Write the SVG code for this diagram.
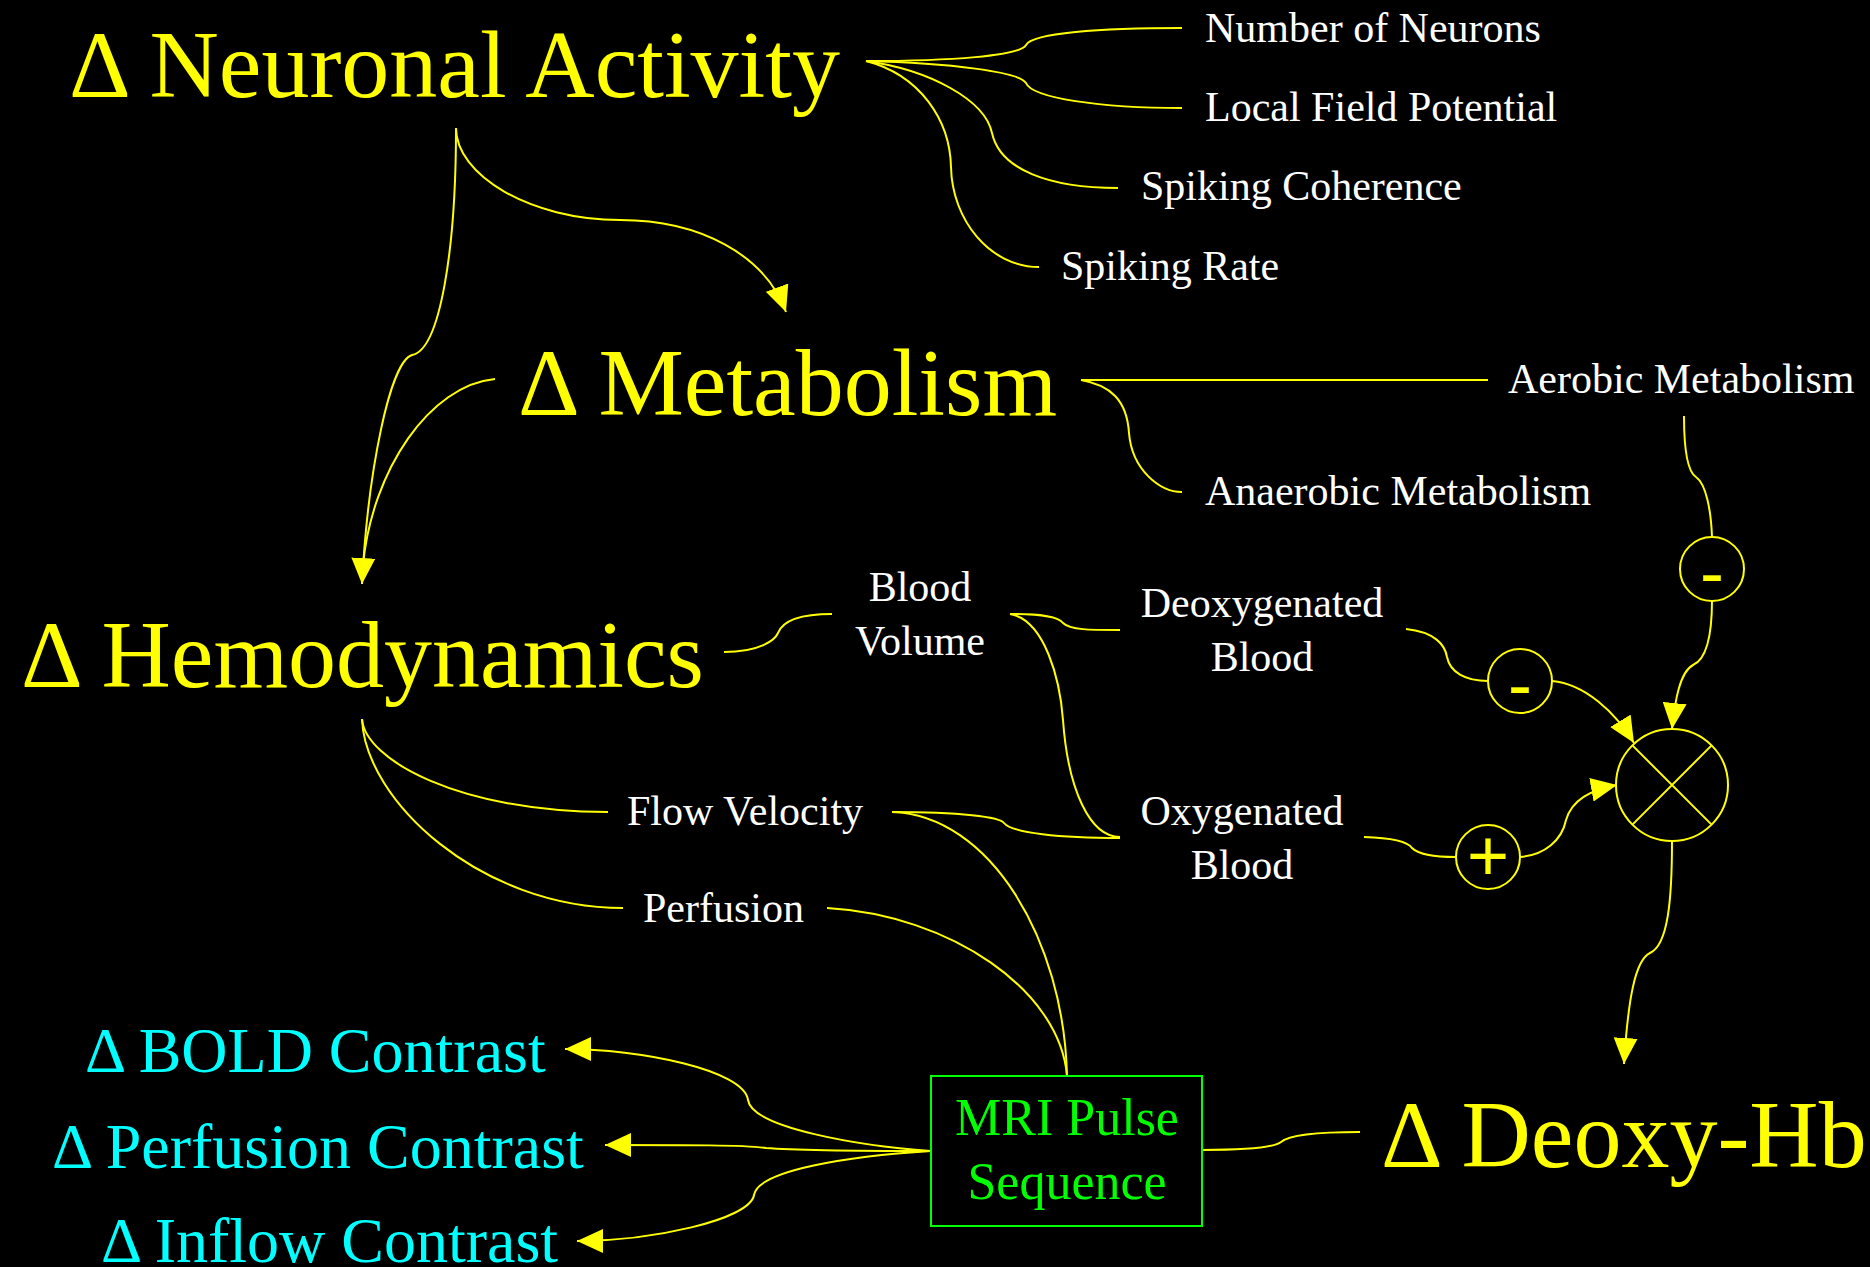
<svg xmlns="http://www.w3.org/2000/svg" width="1870" height="1267" viewBox="0 0 1870 1267">
<style>
text{font-family:"Liberation Serif","Times New Roman",serif}
.big{font-size:96px;fill:#ffff00}
.cy{font-size:64px;fill:#00ffff}
.lbl{font-size:42px;fill:#ffffff}
.mid{text-anchor:middle}
.mri{font-size:52px;fill:#00ff00;text-anchor:middle}
.sgn{font-family:"Liberation Sans",Arial,sans-serif;font-size:72px;fill:#ffff00;text-anchor:middle}
.ln{fill:none;stroke:#ffff00;stroke-width:2}
.arr{fill:none;stroke:#ffff00;stroke-width:2;marker-end:url(#ah)}
.op{fill:none;stroke:#ffff00;stroke-width:2}
</style>
<defs>
<marker id="ah" markerUnits="userSpaceOnUse" viewBox="0 0 26 24" refX="26" refY="12" markerWidth="26" markerHeight="24" orient="auto">
<path d="M0,0 L26,12 L0,24 Z" fill="#ffff00"/>
</marker>
</defs>
<rect x="0" y="0" width="1870" height="1267" fill="#000000"/>

<g id="connectors">
<path class="ln" d="M866,61 C950,61 1020,56 1026,45 C1032,33 1100,28 1182,28"/>
<path class="ln" d="M866,61 C950,63 1020,72 1026,83 C1032,98 1100,108 1182,108"/>
<path class="ln" d="M866,61 C930,70 985,100 992,133 C1000,170 1050,188 1118,188"/>
<path class="ln" d="M866,61 C920,75 950,120 951,167 C952,220 990,267 1039,267"/>
<path class="arr" d="M456,128 C456,175 530,220 620,220 C700,220 765,255 786,312"/>
<path class="arr" d="M456,128 C456,250 440,350 412,355 C390,362 368,470 362,584"/>
<path class="ln" d="M495,379 C430,385 372,470 363,565"/>
<path class="ln" d="M1081,380 L1488,380"/>
<path class="ln" d="M1081,380 C1110,385 1127,400 1129,433 C1132,470 1160,492 1182,492"/>
<path class="ln" d="M1684,416 C1684,450 1688,472 1696,477 C1706,484 1711,510 1712,537"/>
<path class="arr" d="M1712,600 C1712,640 1705,660 1693,665 C1680,672 1675,700 1672,729"/>
<path class="ln" d="M724,652 C760,652 775,640 778,633 C783,620 800,614 832,614"/>
<path class="ln" d="M1010,614 C1040,614 1058,616 1063,623 C1070,630 1090,630 1120,630"/>
<path class="ln" d="M1010,614 C1045,620 1060,680 1063,720 C1068,790 1090,837 1120,837"/>
<path class="ln" d="M892,812 C960,812 1000,817 1004,823 C1012,833 1060,838 1120,838"/>
<path class="ln" d="M1406,629 C1435,632 1445,645 1447,657 C1450,672 1465,681 1488,681"/>
<path class="arr" d="M1552,681 C1585,684 1615,712 1634,743"/>
<path class="ln" d="M1364,837 C1395,838 1408,842 1412,848 C1420,856 1440,857 1456,857"/>
<path class="arr" d="M1520,857 C1545,855 1562,840 1566,820 C1572,800 1590,790 1617,785"/>
<path class="arr" d="M1672,841 C1672,900 1668,945 1650,953 C1635,960 1628,1000 1624,1064"/>
<path class="ln" d="M362,719 C365,760 460,812 608,812"/>
<path class="ln" d="M362,719 C365,800 480,908 623,908"/>
<path class="ln" d="M892,812 C990,815 1064,940 1067,1076"/>
<path class="ln" d="M827,908 C950,915 1060,990 1067,1076"/>
<path class="ln" d="M1202,1150 C1250,1150 1275,1147 1281,1142 C1290,1134 1320,1132 1360,1132"/>
<path class="arr" d="M931,1151 C860,1146 752,1128 748,1100 C744,1070 640,1049 565,1049"/>
<path class="arr" d="M931,1151 C850,1151 790,1150 766,1148 C745,1145 690,1145 605,1145"/>
<path class="arr" d="M931,1151 C850,1156 758,1170 754,1195 C750,1220 650,1241 577,1241"/>
</g>

<g id="neuronal-activity"><text class="big" x="69" y="97">Δ Neuronal Activity</text></g>
<g id="metabolism"><text class="big" x="518" y="415">Δ Metabolism</text></g>
<g id="hemodynamics"><text class="big" x="21" y="687">Δ Hemodynamics</text></g>
<g id="deoxy-hb"><text class="big" x="1381" y="1167">Δ Deoxy-Hb</text></g>

<g id="number-of-neurons"><text class="lbl" x="1205" y="42">Number of Neurons</text></g>
<g id="local-field-potential"><text class="lbl" x="1205" y="121">Local Field Potential</text></g>
<g id="spiking-coherence"><text class="lbl" x="1141" y="200">Spiking Coherence</text></g>
<g id="spiking-rate"><text class="lbl" x="1061" y="280">Spiking Rate</text></g>
<g id="aerobic-metabolism"><text class="lbl" x="1508" y="393">Aerobic Metabolism</text></g>
<g id="anaerobic-metabolism"><text class="lbl" x="1205" y="505">Anaerobic Metabolism</text></g>
<g id="blood-volume"><text class="lbl mid" x="920" y="601">Blood</text><text class="lbl mid" x="920" y="655">Volume</text></g>
<g id="deoxygenated-blood"><text class="lbl mid" x="1262" y="617">Deoxygenated</text><text class="lbl mid" x="1262" y="671">Blood</text></g>
<g id="oxygenated-blood"><text class="lbl mid" x="1242" y="825">Oxygenated</text><text class="lbl mid" x="1242" y="879">Blood</text></g>
<g id="flow-velocity"><text class="lbl" x="627" y="825">Flow Velocity</text></g>
<g id="perfusion"><text class="lbl" x="643" y="922">Perfusion</text></g>

<g id="minus-aerobic"><circle class="op" cx="1712" cy="569" r="32"/><text class="sgn" x="1712" y="597">-</text></g>
<g id="minus-deoxy"><circle class="op" cx="1520" cy="681" r="32"/><text class="sgn" x="1520" y="709">-</text></g>
<g id="plus-oxy"><circle class="op" cx="1488" cy="857" r="32"/><text class="sgn" x="1488" y="880">+</text></g>
<g id="multiplier"><circle class="op" cx="1672" cy="785" r="56"/><path class="op" d="M1632.4,745.4 L1711.6,824.6 M1711.6,745.4 L1632.4,824.6"/></g>

<g id="mri-pulse-sequence"><rect x="931" y="1076" width="271" height="150" fill="none" stroke="#00ff00" stroke-width="2"/><text class="mri" x="1067" y="1135">MRI Pulse</text><text class="mri" x="1067" y="1199">Sequence</text></g>

<g id="bold-contrast"><text class="cy" x="85" y="1072">Δ BOLD Contrast</text></g>
<g id="perfusion-contrast"><text class="cy" x="52" y="1168">Δ Perfusion Contrast</text></g>
<g id="inflow-contrast"><text class="cy" x="101" y="1262">Δ Inflow Contrast</text></g>
</svg>
